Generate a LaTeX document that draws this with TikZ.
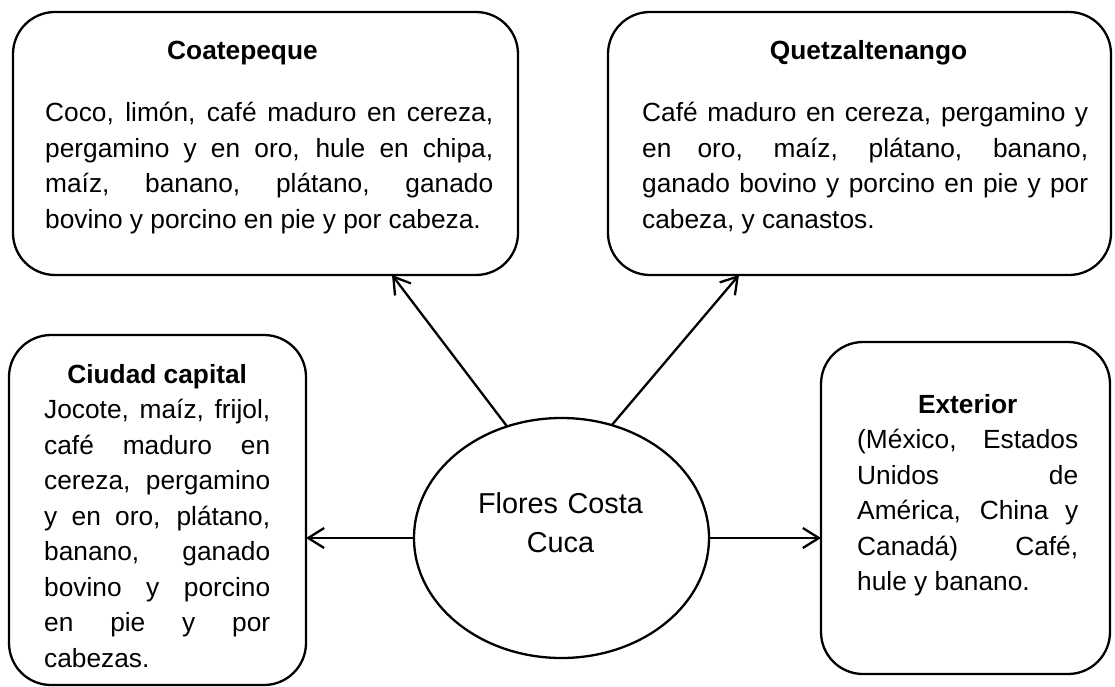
\documentclass[tikz,border=0pt]{standalone}
\usepackage{fontspec}
\setmainfont{Liberation Sans}
\usetikzlibrary{arrows.meta,shapes.geometric}
\hyphenpenalty=10000
\exhyphenpenalty=10000
\tolerance=10000
\hbadness=10000
\begin{document}
\begin{tikzpicture}[x=1pt,y=-1pt,
  box/.style={draw, line width=2.3pt, rounded corners=42pt, rectangle, outer sep=0pt, inner sep=0pt},
  oval/.style={draw, line width=2.3pt, ellipse, outer sep=0pt, inner sep=0pt},
  body/.style={inner sep=0pt, anchor=base west, align=justify, font=\fontsize{26.3pt}{35.5pt}\selectfont},
  ttl/.style={inner sep=0pt, anchor=base, font=\fontsize{26.3pt}{35.5pt}\selectfont\bfseries},
  ctr/.style={inner sep=0pt, anchor=base, align=center, text width=250pt, font=\fontsize{28.8pt}{39pt}\selectfont},
  arr/.style={line width=2.3pt, -{Straight Barb[length=16pt,width=20pt]}}]
\fill[white] (0,0) rectangle (1115,687);
\useasboundingbox (0,0) rectangle (1115,687);

% boxes
\node[box, minimum width=505pt, minimum height=263pt] (coa) at (265.5,143.5) {};
\node[box, minimum width=503pt, minimum height=263pt] (que) at (859.5,143.5) {};
\node[box, minimum width=297pt, minimum height=350pt] (ciu) at (157.5,510) {};
\node[box, minimum width=289pt, minimum height=332pt] (ext) at (965.5,508) {};
\node[oval, minimum width=295pt, minimum height=240pt] (ell) at (561.5,538) {};

% texts
\node[ttl] (coat) at (242.5,60) {Coatepeque};
\node[body, text width=448pt] (coab) at (45,122) {Coco, limón, café maduro en cereza,\linebreak pergamino y en oro, hule en chipa,\linebreak maíz, banano, plátano, ganado\linebreak bovino y porcino en pie y por cabeza.};

\node[ttl] (quet) at (868.5,60) {Quetzaltenango};
\node[body, text width=446pt] (queb) at (642,122) {Café maduro en cereza, pergamino y\linebreak en oro, maíz, plátano, banano,\linebreak ganado bovino y porcino en pie y por\linebreak cabeza, y canastos.};

\node[body, text width=226pt] (ciub) at (44,383) {{\centering\bfseries Ciudad capital\par}Jocote, maíz, frijol,\linebreak café maduro en\linebreak cereza, pergamino\linebreak y en oro, plátano,\linebreak banano, ganado\linebreak bovino y porcino\linebreak en pie y por\linebreak cabezas.};

\node[body, text width=221pt] (extb) at (857,413) {{\centering\bfseries Exterior\par}(México, Estados\linebreak Unidos de\linebreak América, China y\linebreak Canadá) Café,\linebreak hule y banano.};

\node[ctr] (ellt) at (560.5,513) {Flores Costa\\Cuca};

% connectors
\draw[arr] (ell.116.8) -- ([xshift=126.5pt]coa.south);
\draw[arr] (ell.66.1) -- ([xshift=-120.5pt]que.south);
\draw[arr] (ell.west) -- (ell.west -| ciu.east);
\draw[arr] (ell.east) -- (ell.east -| ext.west);
\end{tikzpicture}
\end{document}
